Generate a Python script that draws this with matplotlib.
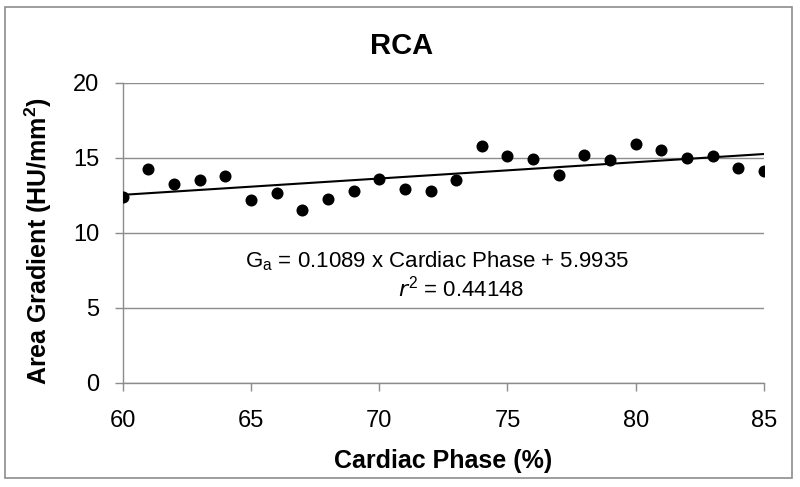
import matplotlib.pyplot as plt
from matplotlib.patches import Rectangle

# ---Data---
phase = [60, 61, 62, 63, 64, 65, 66, 67, 68, 69, 70, 71, 72,
         73, 74, 75, 76, 77, 78, 79, 80, 81, 82, 83, 84, 85]
gradient = [12.35, 14.27, 13.28, 13.50, 13.81, 12.15, 12.66, 11.51, 12.22,
            12.77, 13.59, 12.90, 12.79, 13.50, 15.79, 15.11, 14.91, 13.85,
            15.18, 14.87, 15.93, 15.55, 15.00, 15.15, 14.29, 14.10]
slope = 0.1089
intercept = 5.9935
r2 = 0.44148
x_ticks = [60, 65, 70, 75, 80, 85]
y_ticks = [0, 5, 10, 15, 20]

GRAY = "#8c8c8c"
FONT = "Liberation Sans"
W, H = 800, 487

fig = plt.figure(figsize=(8, 4.87), dpi=100)
ax = fig.add_axes([0.1534, 0.2142, 0.955 - 0.1534, 0.830 - 0.2142])

ax.scatter(phase, gradient, s=75, color="black", zorder=3, linewidths=0)
fit_x = [phase[0], phase[-1]]
fit_y = [slope * v + intercept for v in fit_x]
ax.plot(fit_x, fit_y, color="black", lw=1.5, zorder=2)

ax.set_xlim(60, 85)
ax.set_ylim(0, 20)
ax.set_xticks(x_ticks)
ax.set_yticks(y_ticks)
ax.yaxis.grid(True, color=GRAY, lw=1.0)
ax.set_axisbelow(True)
for s in ["top", "right"]:
    ax.spines[s].set_visible(False)
for s in ["left", "bottom"]:
    ax.spines[s].set_color(GRAY)
    ax.spines[s].set_linewidth(1.0)
ax.tick_params(axis="both", colors=GRAY, length=6, width=1.0, labelcolor="black")
ax.tick_params(axis="x", pad=14)
ax.tick_params(axis="y", pad=11)
for lab in ax.get_xticklabels() + ax.get_yticklabels():
    lab.set_fontfamily(FONT)
    lab.set_fontsize(17)

fig.text(443 / W, 1 - 461 / H, "Cardiac Phase (%)", fontfamily=FONT, fontweight="bold",
         fontsize=18, ha="center", va="center")
fig.text(38 / W, 1 - 241 / H, "Area Gradient (HU/mm$^\\mathregular{2}$)", fontfamily=FONT,
         fontweight="bold", fontsize=18, ha="center", va="center", rotation=90)

fig.text(402 / W, 1 - 46 / H, "RCA", fontfamily=FONT, fontweight="bold", fontsize=21,
         ha="center", va="center")

fig.text(245 / W, 1 - 267 / H,
         "G$_\\mathregular{a}$ = %.4f x Cardiac Phase + %.4f" % (slope, intercept),
         fontfamily=FONT, fontsize=16, va="baseline")
fig.text(398 / W, 1 - 297 / H, "$\\mathit{r}^\\mathregular{2}$ = %.5f" % r2,
         fontfamily=FONT, fontsize=16, va="baseline")

fig.add_artist(Rectangle((5 / W, 1 - 478 / H), 787 / W, 471 / H,
                         transform=fig.transFigure, fill=False, edgecolor=GRAY, lw=1.2))

fig.savefig("out.png", dpi=100)
